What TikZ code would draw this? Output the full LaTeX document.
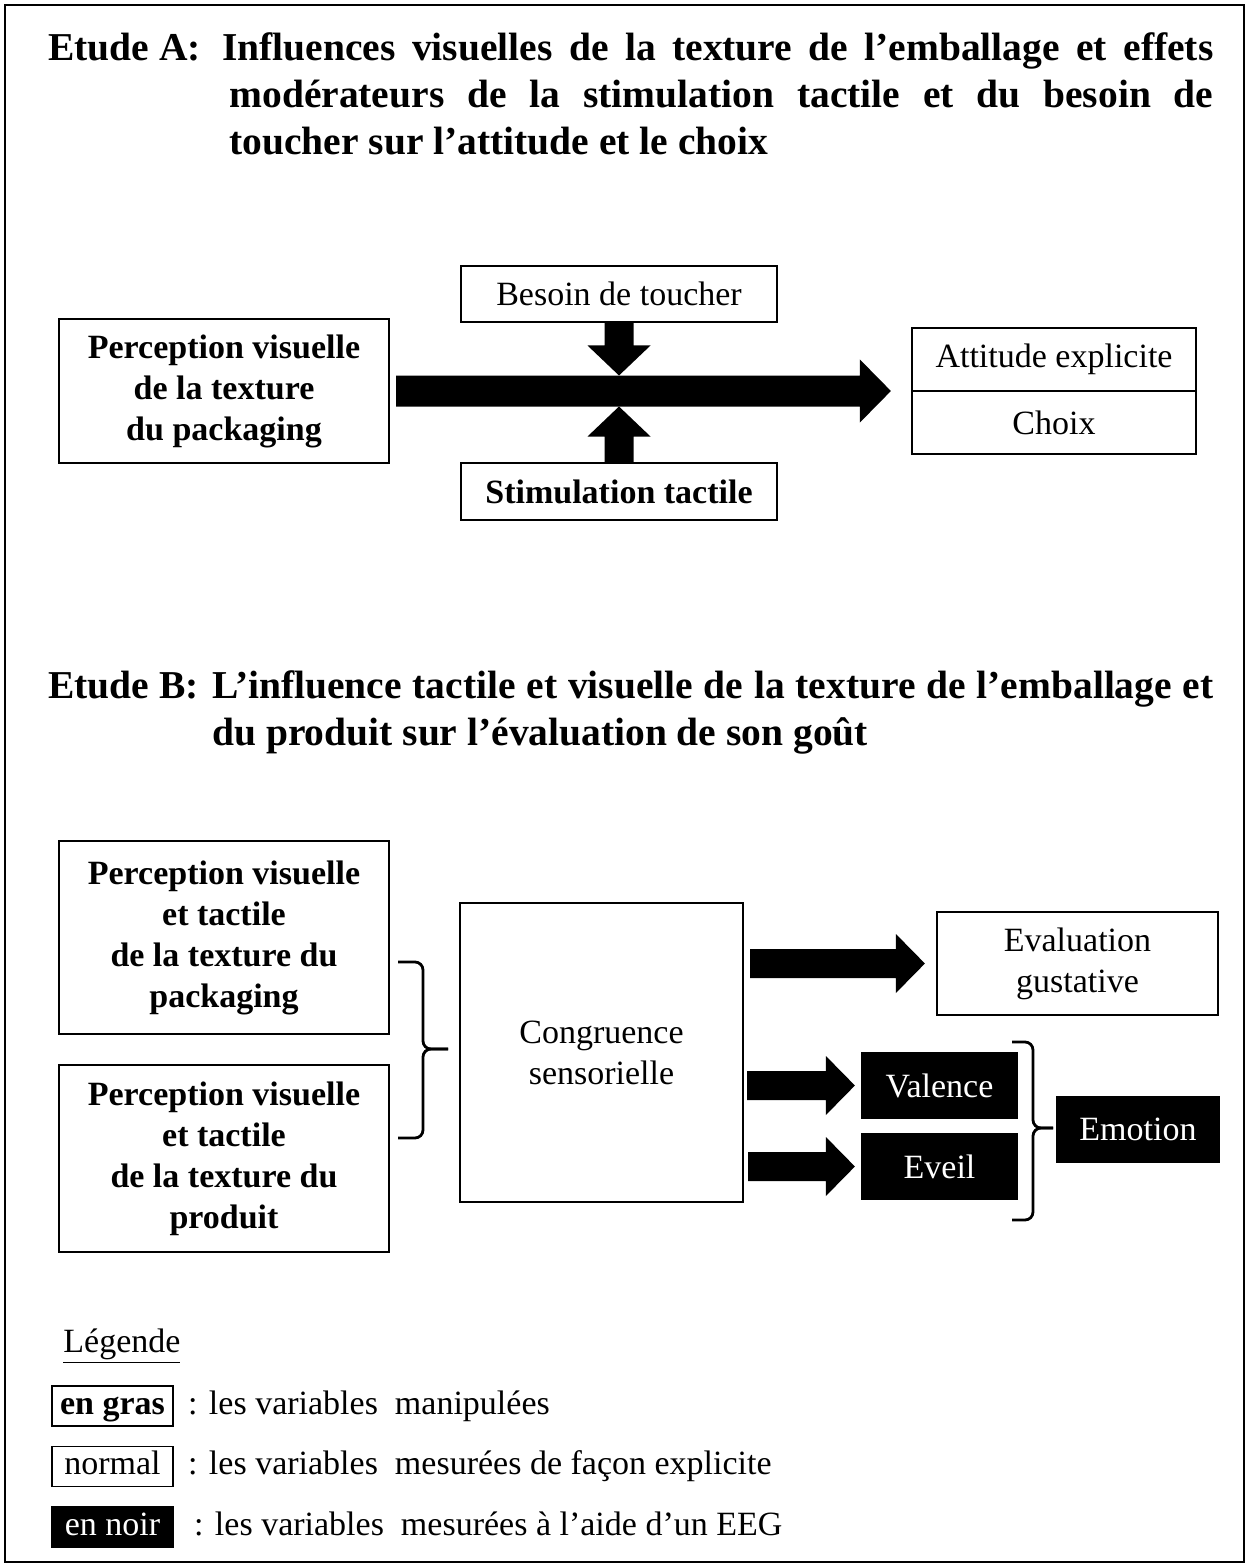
\documentclass[tikz,border=0pt]{standalone}
\usepackage{fontspec}
\setmainfont{Liberation Serif}
\usetikzlibrary{calc}
\newcommand\bodyfont{\fontsize{17pt}{20.5pt}\selectfont}
\newcommand\titlefont{\fontsize{19.75pt}{23.5pt}\selectfont\bfseries}
% horizontal block arrow: #1 start, #2 tip, #3 shaft half, #4 head half, #5 head length
\newcommand\hblock[5]{\fill let \p1=(#1), \p2=(#2) in (\x1,\y1+#3) -- (\x2-#5,\y1+#3) -- (\x2-#5,\y1+#4) -- (\x2,\y1) -- (\x2-#5,\y1-#4) -- (\x2-#5,\y1-#3) -- (\x1,\y1-#3) -- cycle;}
\newcommand\vdown[5]{\fill let \p1=(#1), \p2=(#2) in (\x1-#3,\y1) -- (\x1-#3,\y2+#5) -- (\x1-#4,\y2+#5) -- (\x1,\y2) -- (\x1+#4,\y2+#5) -- (\x1+#3,\y2+#5) -- (\x1+#3,\y1) -- cycle;}
\newcommand\vup[5]{\fill let \p1=(#1), \p2=(#2) in (\x1-#3,\y1) -- (\x1-#3,\y2-#5) -- (\x1-#4,\y2-#5) -- (\x1,\y2) -- (\x1+#4,\y2-#5) -- (\x1+#3,\y2-#5) -- (\x1+#3,\y1) -- cycle;}
\tikzset{
  box/.style={draw, line width=1.1pt, inner sep=0pt, align=center, font=\bodyfont},
  bbox/.style={box, font=\bodyfont\bfseries},
  kbox/.style={box, fill=black, text=white},
  lbox/.style={draw, line width=0.8pt, inner sep=0pt, align=center, minimum width=60.5pt, minimum height=20pt, text height=11.5pt, text depth=3.5pt},
  ttl/.style={anchor=base west, inner sep=0pt, font=\titlefont},
  brace/.style={line width=1.4pt, rounded corners=4pt},
  ltxt/.style={anchor=base west, inner sep=0pt, font=\bodyfont}
}
\begin{document}
\begin{tikzpicture}[x=0.5pt,y=-0.5pt]
\useasboundingbox (0,0) rectangle (1250,1567);
\draw[line width=1.3pt] (5,5) rectangle (1244,1562);

% Title A
\node[ttl] (tA0) at (48,61) {Etude A:};
\node[ttl] (tA1) at (222,61) {\makebox[495.5pt][s]{Influences visuelles de la texture de l’emballage et effets}};
\node[ttl] (tA2) at (229,108) {\makebox[492pt][s]{modérateurs de la stimulation tactile et du besoin de}};
\node[ttl] (tA3) at (229,155) {toucher sur l’attitude et le choix};

% Study A
\node[bbox, minimum width=165pt, minimum height=72pt] (pvA) at (224,391) {Perception visuelle\\de la texture\\du packaging};
\node[box, minimum width=158pt, minimum height=28pt] (besoin) at (619,294) {Besoin de toucher};
\node[bbox, minimum width=158pt, minimum height=28.5pt] (stim) at (619,491.5) {Stimulation tactile};
\node[box, minimum width=142pt, minimum height=31.5pt] (att) at (1054,359.5) {Attitude explicite};
\node[box, minimum width=142pt, minimum height=31.5pt] (choix) at (1054,422.5) {Choix};

\coordinate (mA1) at ([xshift=3pt]pvA.east);
\coordinate (mA2) at ([xshift=-10pt]att.south west);
\hblock{mA1}{mA2}{7.75pt}{15.75pt}{15.5pt}
\coordinate (tipD) at ($(besoin.south |- mA1)+(0,7.75pt)$);
\coordinate (tipU) at ($(stim.north |- mA1)+(0,-7.75pt)$);
\vdown{besoin.south}{tipD}{7.25pt}{15.75pt}{15pt}
\vup{stim.north}{tipU}{7.25pt}{15.75pt}{15pt}

% Title B
\node[ttl] (tB0) at (48,698) {Etude B:};
\node[ttl] (tB1) at (212,698) {\makebox[500.5pt][s]{L’influence tactile et visuelle de la texture de l’emballage et}};
\node[ttl] (tB2) at (212,745) {du produit sur l’évaluation de son goût};

% Study B
\node[bbox, minimum width=165pt, minimum height=96.5pt] (pv1) at (224,937.5) {Perception visuelle\\et tactile\\de la texture du\\packaging};
\node[bbox, minimum width=165pt, minimum height=93.5pt] (pv2) at (224,1158.5) {Perception visuelle\\et tactile\\de la texture du\\produit};
\node[box, minimum width=141.5pt, minimum height=149.5pt] (cong) at (601.5,1052.5) {Congruence\\sensorielle};
\node[box, minimum width=140.5pt, minimum height=51.5pt] (eval) at (1077.5,963.5) {Evaluation\\gustative};
\node[kbox, minimum width=77.5pt, minimum height=32.5pt] (val) at (939.5,1085.5) {Valence};
\node[kbox, minimum width=77.5pt, minimum height=32.5pt] (eveil) at (939.5,1166.5) {Eveil};
\node[kbox, minimum width=81pt, minimum height=32.5pt] (emo) at (1138,1129.5) {Emotion};

\coordinate (eA1) at ([xshift=3pt]cong.east |- eval.west);
\coordinate (eA2) at ([xshift=-5.5pt]eval.west);
\hblock{eA1}{eA2}{7.25pt}{14.75pt}{14.5pt}
\coordinate (vA1) at ([xshift=1.5pt]cong.east |- val.west);
\coordinate (vA2) at ([xshift=-3pt]val.west);
\hblock{vA1}{vA2}{7.25pt}{14.75pt}{14.5pt}
\coordinate (wA1) at ([xshift=2pt]cong.east |- eveil.west);
\coordinate (wA2) at ([xshift=-3pt]eveil.west);
\hblock{wA1}{wA2}{7.25pt}{14.75pt}{14.5pt}

% braces
\draw[brace] (398,962) -- (423,962) -- (423,1049) -- (448,1049);
\draw[brace] (448,1049) -- (423,1049) -- (423,1138) -- (398,1138);
\draw[brace] (1012,1042) -- (1033,1042) -- (1033,1128) -- (1053,1128);
\draw[brace] (1053,1128) -- (1033,1128) -- (1033,1220) -- (1012,1220);

% Legend
\node[anchor=base west, inner sep=0pt, font=\bodyfont] (leg) at (63,1352) {\underline{Légende}};
\node[lbox, font=\bodyfont\bfseries] (l1) at (112.5,1406) {en gras};
\node[lbox, font=\bodyfont] (l2) at (112.5,1466.5) {normal};
\node[lbox, font=\bodyfont, fill=black, text=white] (l3) at (112.5,1527) {en noir};
\node[ltxt] (l1t) at ([xshift=7pt]l1.base east) {: les variables~ manipulées};
\node[ltxt] (l2t) at ([xshift=7pt]l2.base east) {: les variables~ mesurées de façon explicite};
\node[ltxt] (l3t) at ([xshift=10pt]l3.base east) {: les variables~ mesurées à l’aide d’un EEG};
\end{tikzpicture}
\end{document}
